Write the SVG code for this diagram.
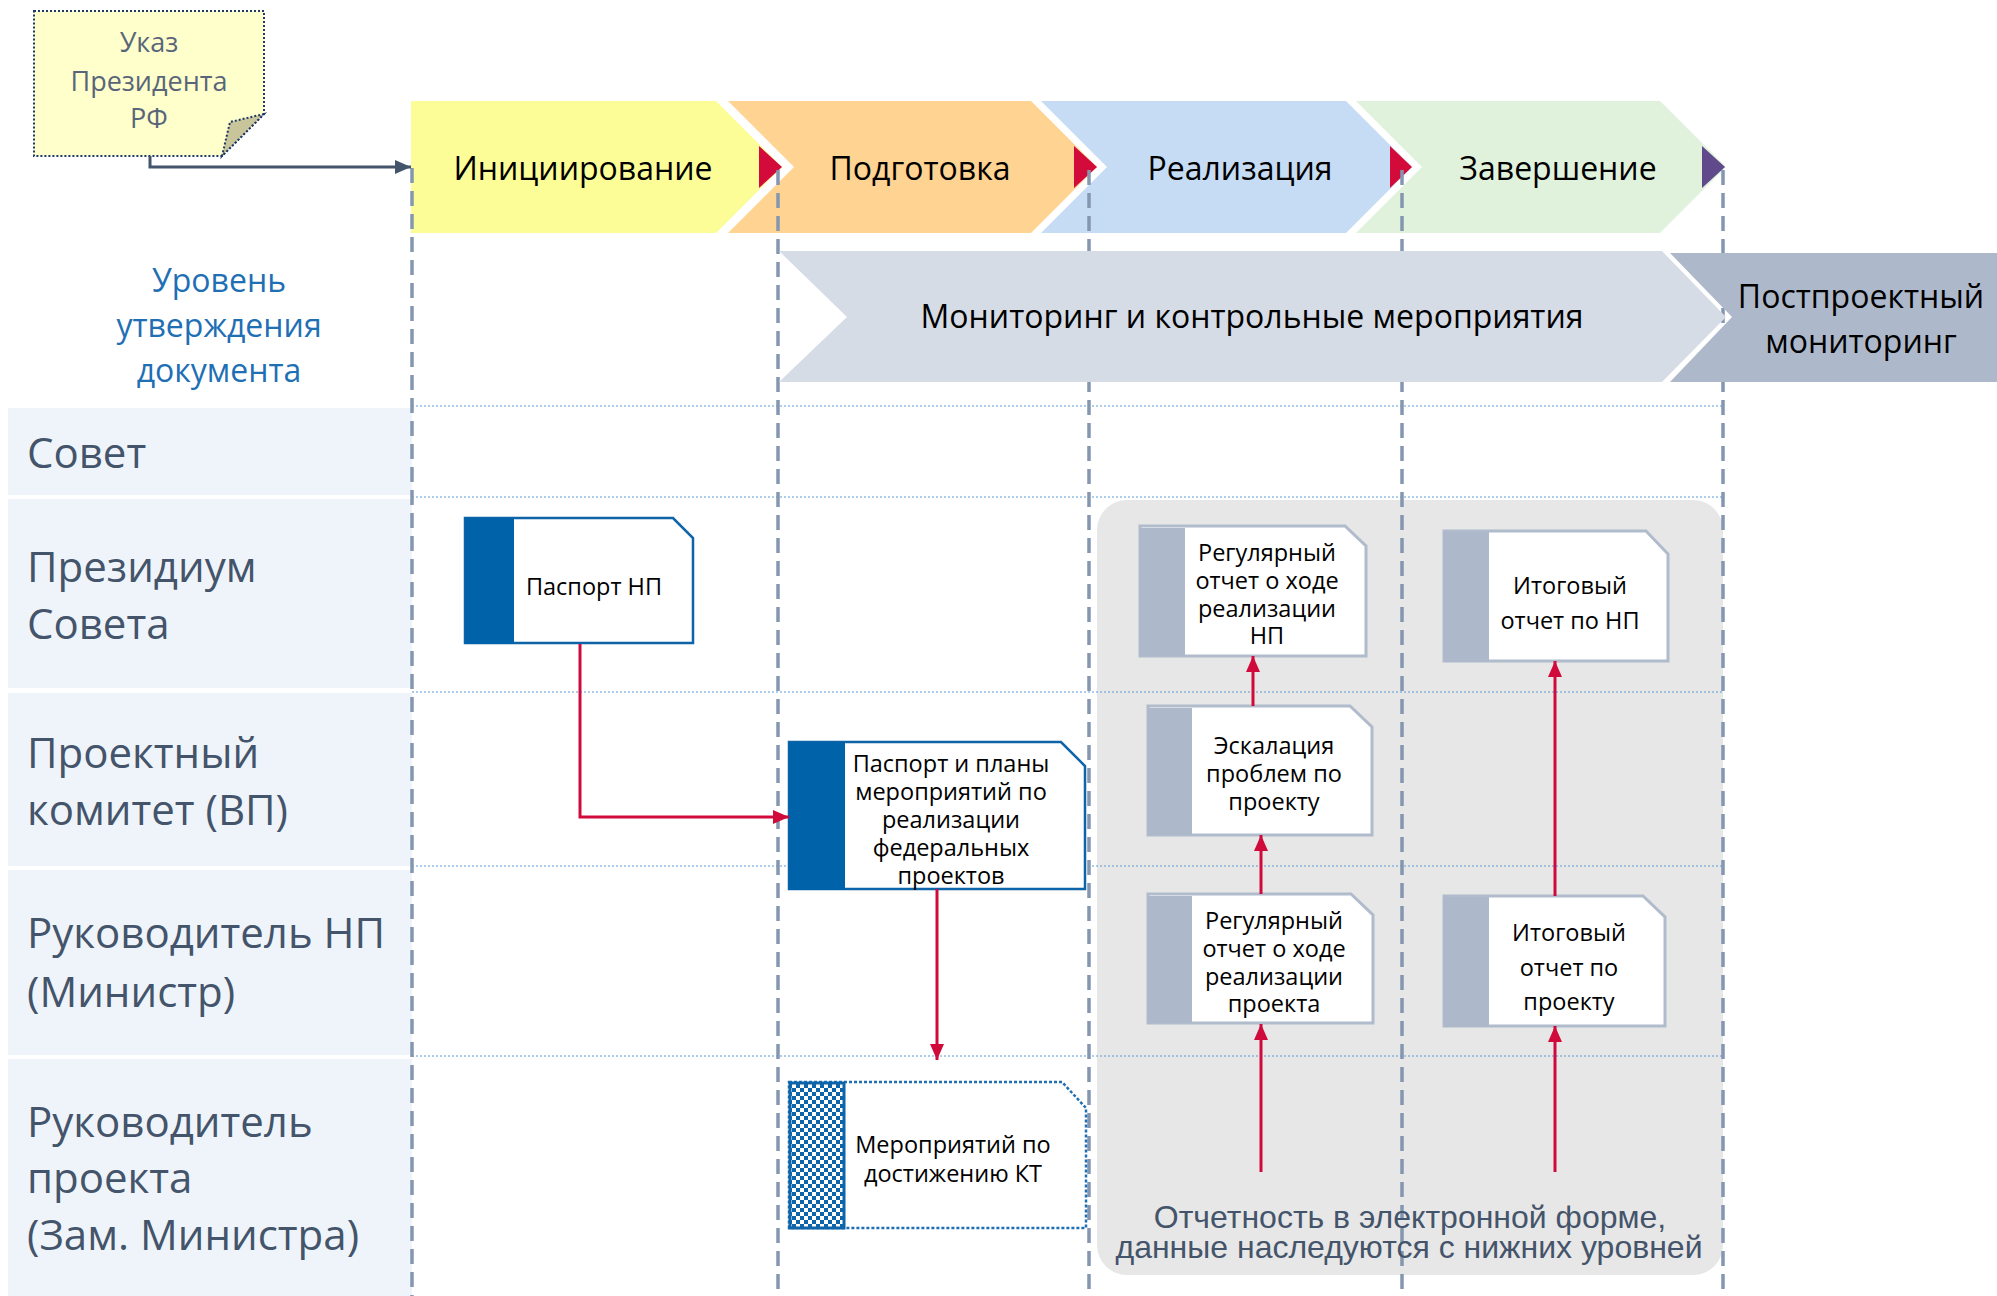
<svg xmlns="http://www.w3.org/2000/svg" width="1997" height="1296" viewBox="0 0 1997 1296">
<defs>
<style>
.lbl{font-family:"Open Sans","Noto Sans",sans-serif;font-size:42px;fill:#44546A}
.lvl{font-family:"Open Sans","Noto Sans",sans-serif;font-size:32px;fill:#1F6FB5;text-anchor:middle}
.ph{font-family:"Open Sans","Noto Sans",sans-serif;font-size:32px;fill:#000;text-anchor:middle}
.bx{font-family:"Open Sans","Noto Sans",sans-serif;font-size:23.5px;fill:#000;text-anchor:middle}
.note{font-family:"Open Sans","Noto Sans",sans-serif;font-size:27px;fill:#59667A;text-anchor:middle}
.foot{font-family:"Liberation Sans",Arial,sans-serif;font-size:32px;fill:#44546A;text-anchor:middle}
.lanebg{fill:#EFF4FB}
.dash{stroke:#8496B0;stroke-width:3.5;stroke-dasharray:15 8;fill:none}
.sep{stroke:#5B9BD5;stroke-width:1;stroke-dasharray:2 2;fill:none}
.red{stroke:#D10A3C;stroke-width:3;fill:none;marker-end:url(#ar)}
.docb{fill:#fff;stroke:#0E64A8;stroke-width:2.5}
.barb{fill:#0062A8}
.docg{fill:#fff;stroke:#B0BBCC;stroke-width:3}
.barg{fill:#ADB9CA}
</style>
<marker id="ar" markerUnits="userSpaceOnUse" markerWidth="16" markerHeight="14" refX="16" refY="7" orient="auto">
<path d="M0,0 L16,7 L0,14 Z" fill="#D10A3C"/>
</marker>
<marker id="ard" markerUnits="userSpaceOnUse" markerWidth="16" markerHeight="14" refX="16" refY="7" orient="auto">
<path d="M0,0 L16,7 L0,14 Z" fill="#44546A"/>
</marker>
<pattern id="chk" width="8" height="8" patternUnits="userSpaceOnUse">
<rect width="8" height="8" fill="#fff"/>
<rect width="4" height="4" fill="#0E64A8"/>
<rect x="4" y="4" width="4" height="4" fill="#0E64A8"/>
</pattern>
</defs>

<!-- lane label backgrounds -->
<g id="lanes">
<rect class="lanebg" x="8" y="408" width="404" height="87"/>
<rect class="lanebg" x="8" y="499" width="404" height="189"/>
<rect class="lanebg" x="8" y="693" width="404" height="173"/>
<rect class="lanebg" x="8" y="870" width="404" height="185"/>
<rect class="lanebg" x="8" y="1059" width="404" height="237"/>
</g>

<!-- phases -->
<g id="phase-init"><polygon points="411,101 716,101 782,167 716,233 411,233" fill="#FDFD97"/></g>
<g id="phase-prep"><polygon points="728,101 1031,101 1097,167 1031,233 728,233 794,167" fill="#FFD391"/></g>
<g id="phase-impl"><polygon points="1041,101 1346,101 1412,167 1346,233 1041,233 1107,167" fill="#C5DCF4"/></g>
<g id="phase-end"><polygon points="1356,101 1660,101 1726,167 1660,233 1356,233 1422,167" fill="#E0F2DB"/></g>
<g id="gates">
<polygon points="759,146 782,167 759,188" fill="#D20B3A"/>
<polygon points="1074,146 1097,167 1074,188" fill="#D20B3A"/>
<polygon points="1390,146 1412,167 1390,188" fill="#D20B3A"/>
<polygon points="1702,146 1725,167 1702,188" fill="#604A8B"/>
</g>

<!-- grey reporting area -->
<g id="report-area"><rect x="1097" y="500" width="626" height="775" rx="30" fill="#E7E7E7"/></g>

<!-- separators -->
<g id="separators">
<line class="sep" x1="412" y1="406" x2="1723" y2="406"/>
<line class="sep" x1="412" y1="497" x2="1723" y2="497"/>
<line class="sep" x1="412" y1="692" x2="1723" y2="692"/>
<line class="sep" x1="412" y1="866" x2="1723" y2="866"/>
<line class="sep" x1="412" y1="1056" x2="1723" y2="1056"/>
</g>

<!-- phase boundaries -->
<g id="boundaries">
<line class="dash" x1="412" y1="168" x2="412" y2="1296"/>
<line class="dash" x1="778" y1="170" x2="778" y2="1296"/>
<line class="dash" x1="1089" y1="170" x2="1089" y2="1296"/>
<line class="dash" x1="1402" y1="170" x2="1402" y2="1296"/>
<line class="dash" x1="1723" y1="170" x2="1723" y2="1296"/>
</g>

<!-- monitoring bands -->
<g id="monitoring"><polygon points="779,251 1662,251 1726,317 1662,382 779,382 847,317" fill="#D6DCE5"/></g>
<g id="post-monitoring"><polygon points="1670,253 1997,253 1997,382 1670,382 1732,317" fill="#ADB9CA"/></g>

<!-- note -->
<g id="ukaz">
<path d="M34,11 H264 V114 L222,156 H34 Z" fill="#FFFFCC" stroke="#1F3864" stroke-width="2" stroke-dasharray="2 2"/>
<path d="M264,114 L230,122 L222,156 Z" fill="#C9C59A" stroke="#1F3864" stroke-width="2" stroke-dasharray="2 2"/>
<text class="note" x="149" y="52">Указ</text>
<text class="note" x="149" y="91">Президента</text>
<text class="note" x="149" y="128">РФ</text>
</g>

<!-- nodes -->
<g id="pasport-np">
<path class="docb" d="M465,518 H673 L693,538 V643 H465 Z"/>
<rect class="barb" x="465" y="518" width="49" height="126"/>
<text class="bx" x="594" y="595">Паспорт НП</text>
</g>
<g id="pasport-fp">
<path class="docb" d="M789,742 H1061 L1085,766 V889 H789 Z"/>
<rect class="barb" x="789" y="742" width="56" height="148"/>
<text class="bx" x="951" y="772">Паспорт и планы</text>
<text class="bx" x="951" y="800">мероприятий по</text>
<text class="bx" x="951" y="828">реализации</text>
<text class="bx" x="951" y="856">федеральных</text>
<text class="bx" x="951" y="884">проектов</text>
</g>
<g id="meropr-kt">
<path d="M789,1082 H1062 L1086,1108 V1228 H789 Z" fill="#fff" stroke="#1F6FB5" stroke-width="2.5" stroke-dasharray="3 2"/>
<rect x="790" y="1083" width="54" height="145" fill="url(#chk)" stroke="#0E64A8" stroke-width="3"/>
<text class="bx" x="953" y="1153">Мероприятий по</text>
<text class="bx" x="953" y="1182">достижению КТ</text>
</g>
<g id="report-np">
<path class="docg" d="M1140,526 H1345 L1366,546 V656 H1140 Z"/>
<rect class="barg" x="1140" y="528" width="45" height="128"/>
<text class="bx" x="1267" y="561">Регулярный</text>
<text class="bx" x="1267" y="589">отчет о ходе</text>
<text class="bx" x="1267" y="617">реализации</text>
<text class="bx" x="1267" y="644">НП</text>
</g>
<g id="final-np">
<path class="docg" d="M1444,531 H1646 L1668,554 V661 H1444 Z"/>
<rect class="barg" x="1444" y="532" width="45" height="130"/>
<text class="bx" x="1570" y="594">Итоговый</text>
<text class="bx" x="1570" y="629">отчет по НП</text>
</g>
<g id="escalation">
<path class="docg" d="M1148,706 H1350 L1372,727 V835 H1148 Z"/>
<rect class="barg" x="1148" y="708" width="44" height="127"/>
<text class="bx" x="1274" y="754">Эскалация</text>
<text class="bx" x="1274" y="782">проблем по</text>
<text class="bx" x="1274" y="810">проекту</text>
</g>
<g id="report-project">
<path class="docg" d="M1148,894 H1351 L1373,915 V1023 H1148 Z"/>
<rect class="barg" x="1148" y="896" width="44" height="127"/>
<text class="bx" x="1274" y="929">Регулярный</text>
<text class="bx" x="1274" y="957">отчет о ходе</text>
<text class="bx" x="1274" y="985">реализации</text>
<text class="bx" x="1274" y="1012">проекта</text>
</g>
<g id="final-project">
<path class="docg" d="M1444,896 H1643 L1665,917 V1026 H1444 Z"/>
<rect class="barg" x="1444" y="897" width="45" height="130"/>
<text class="bx" x="1569" y="941">Итоговый</text>
<text class="bx" x="1569" y="976">отчет по</text>
<text class="bx" x="1569" y="1010">проекту</text>
</g>

<!-- connectors -->
<g id="connectors">
<path d="M150,156 V167 H411" stroke="#44546A" stroke-width="3" fill="none" marker-end="url(#ard)"/>
<path class="red" d="M580,644 V817 H789"/>
<path class="red" d="M937,889 V1060"/>
<path class="red" d="M1253,706 V656"/>
<path class="red" d="M1261,894 V835"/>
<path class="red" d="M1261,1172 V1024"/>
<path class="red" d="M1555,896 V661"/>
<path class="red" d="M1555,1172 V1026"/>
</g>

<!-- texts -->
<g id="labels">
<text class="ph" x="583" y="180">Инициирование</text>
<text class="ph" x="920" y="180">Подготовка</text>
<text class="ph" x="1240" y="180">Реализация</text>
<text class="ph" x="1558" y="180">Завершение</text>
<text class="ph" x="1252" y="328">Мониторинг и контрольные мероприятия</text>
<text class="ph" x="1861" y="308">Постпроектный</text>
<text class="ph" x="1861" y="353">мониторинг</text>
<text class="lvl" x="219" y="292">Уровень</text>
<text class="lvl" x="219" y="337">утверждения</text>
<text class="lvl" x="219" y="382">документа</text>
<text class="lbl" x="27" y="468">Совет</text>
<text class="lbl" x="27" y="582">Президиум</text>
<text class="lbl" x="27" y="639">Совета</text>
<text class="lbl" x="27" y="768">Проектный</text>
<text class="lbl" x="27" y="825">комитет (ВП)</text>
<text class="lbl" x="27" y="948">Руководитель НП</text>
<text class="lbl" x="27" y="1007">(Министр)</text>
<text class="lbl" x="27" y="1137">Руководитель</text>
<text class="lbl" x="27" y="1193">проекта</text>
<text class="lbl" x="27" y="1250">(Зам. Министра)</text>
<text class="foot" x="1410" y="1228">Отчетность в электронной форме,</text>
<text class="foot" x="1409" y="1258">данные наследуются с нижних уровней</text>
</g>
</svg>
